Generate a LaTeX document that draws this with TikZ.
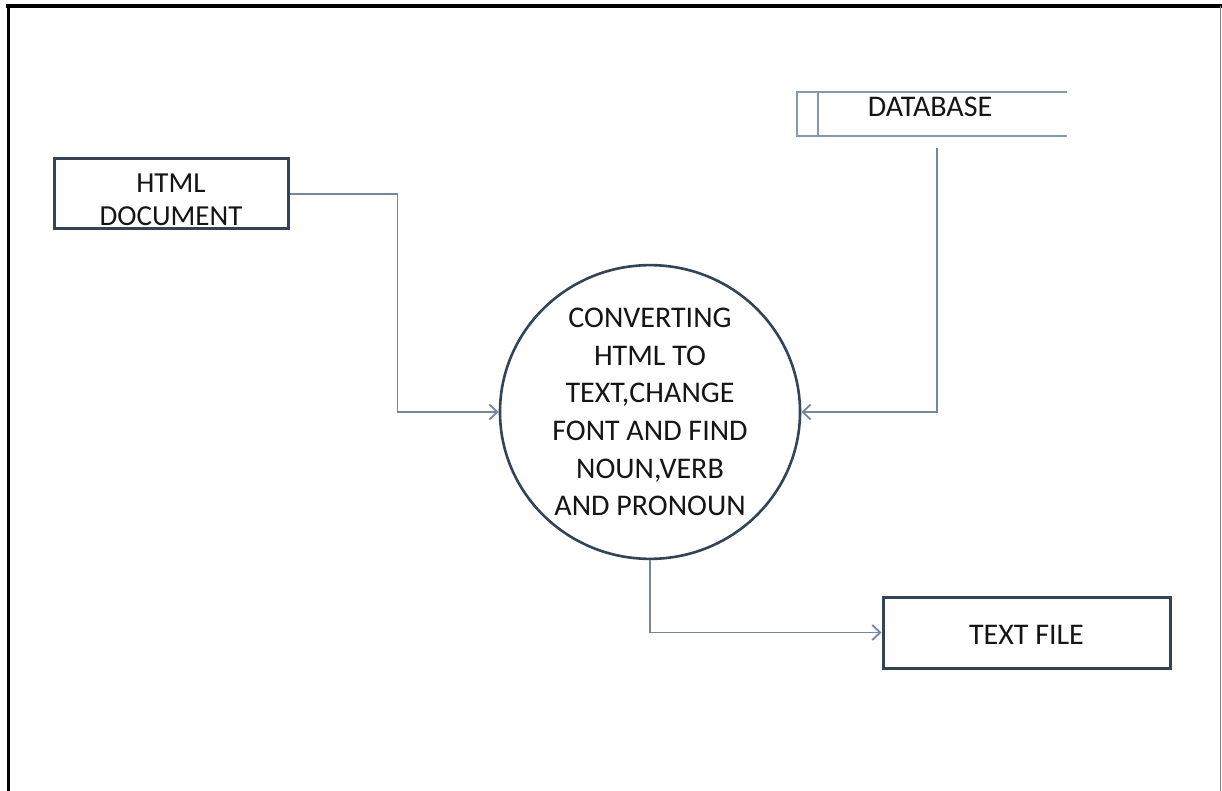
\documentclass[tikz,border=0pt]{standalone}
\usepackage{fontspec}
\setmainfont{Carlito}
\usetikzlibrary{shapes.geometric,arrows.meta}
\definecolor{boxborder}{HTML}{34435A}
\definecolor{connc}{HTML}{7486A0}
\definecolor{dbc}{HTML}{8797B0}
\definecolor{txt}{HTML}{151515}
\tikzset{
  entity/.style={draw=boxborder, line width=3pt, rectangle, inner sep=0pt, text=txt, align=center, font=\fontsize{29}{33}\selectfont},
  proc/.style={draw=boxborder, line width=2.6pt, ellipse, inner sep=0pt, text=txt, align=center, minimum width=300pt, minimum height=270pt, font=\fontsize{30}{37.6}\selectfont},
  store/.style={rectangle, inner sep=0pt, text=txt, font=\fontsize{30}{36}\selectfont},
  conn/.style={draw=connc, line width=1.9pt, -{Straight Barb[length=8pt,width=15pt,line width=1.8pt]}},
  dbline/.style={draw=dbc, line width=1.6pt}
}
\begin{document}
\begin{tikzpicture}[x=1pt,y=-1pt]
\useasboundingbox (0,0) rectangle (1222,791);
\fill[white] (0,0) rectangle (1222,791);
% frame
\draw[black, line width=4pt] (6,6) -- (1222,6);
\draw[black, line width=3pt] (8,5) -- (8,791);
\draw[gray, line width=1.5pt] (1220.5,6) -- (1220.5,791);
% nodes
\node[entity, minimum width=234pt, minimum height=70pt] (html) at (171,194)
  {\raisebox{-14.5pt}[0pt][0pt]{\begin{tabular}{@{}c@{}}HTML\\DOCUMENT\end{tabular}}};
\node[proc] (proc) at (650,412) {CONVERTING\\HTML TO\\TEXT,CHANGE\\FONT AND FIND\\NOUN,VERB\\AND PRONOUN};
\node[store, minimum width=270pt, minimum height=44pt] (db) at (932,114) {\hspace*{-4pt}\raisebox{-2.7pt}[0pt][0pt]{DATABASE}};
\node[entity, font=\fontsize{30}{36}\selectfont, minimum width=287pt, minimum height=71pt] (tf) at (1026.5,632.5) {\raisebox{-12.2pt}[0pt][0pt]{TEXT FILE}};
% data store lines
\draw[dbline] (db.north east) -- (db.north west) -- (db.south west) -- (db.south east);
\draw[dbline] ([xshift=21pt]db.north west) -- ([xshift=21pt]db.south west);
\coordinate (dbout) at (937,148);
% connectors
\draw[conn] (html.east) -- ++(108,0) |- (proc.west);
\draw[conn] (dbout) |- (proc.east);
\draw[conn] (proc.south) |- (tf.west);
\end{tikzpicture}
\end{document}
